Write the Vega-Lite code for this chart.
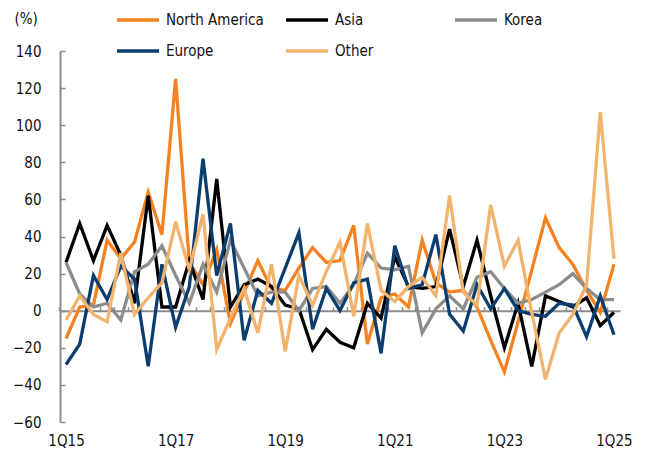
{
  "$schema": "https://vega.github.io/schema/vega-lite/v6.json",
  "autosize": {"type": "none"},
  "width": 560,
  "height": 371,
  "padding": {"left": 60, "top": 51, "right": 26, "bottom": 34},
  "background": "white",
  "config": {
    "view": {"stroke": null},
    "font": "DejaVu Sans Condensed, sans-serif",
    "axis": {"labelFont": "DejaVu Sans Condensed, sans-serif", "labelFontSize": 15, "labelColor": "#111", "grid": false},
    "legend": {"labelFont": "DejaVu Sans Condensed, sans-serif", "labelFontSize": 15, "labelColor": "#111"}
  },
  "data": {"values": [
    {"q":"1Q15","s":"North America","v":-15},{"q":"2Q15","s":"North America","v":2},{"q":"3Q15","s":"North America","v":3},{"q":"4Q15","s":"North America","v":38},
    {"q":"1Q16","s":"North America","v":28},{"q":"2Q16","s":"North America","v":37},{"q":"3Q16","s":"North America","v":64},{"q":"4Q16","s":"North America","v":41},
    {"q":"1Q17","s":"North America","v":125},{"q":"2Q17","s":"North America","v":26},{"q":"3Q17","s":"North America","v":14},{"q":"4Q17","s":"North America","v":33},
    {"q":"1Q18","s":"North America","v":-7},{"q":"2Q18","s":"North America","v":10},{"q":"3Q18","s":"North America","v":27},{"q":"4Q18","s":"North America","v":12},
    {"q":"1Q19","s":"North America","v":11},{"q":"2Q19","s":"North America","v":23},{"q":"3Q19","s":"North America","v":34},{"q":"4Q19","s":"North America","v":26},
    {"q":"1Q20","s":"North America","v":27},{"q":"2Q20","s":"North America","v":46},{"q":"3Q20","s":"North America","v":-18},{"q":"4Q20","s":"North America","v":7},
    {"q":"1Q21","s":"North America","v":9},{"q":"2Q21","s":"North America","v":2},{"q":"3Q21","s":"North America","v":38},{"q":"4Q21","s":"North America","v":15},
    {"q":"1Q22","s":"North America","v":10},{"q":"2Q22","s":"North America","v":11},{"q":"3Q22","s":"North America","v":2},{"q":"4Q22","s":"North America","v":-16},
    {"q":"1Q23","s":"North America","v":-33},{"q":"2Q23","s":"North America","v":-6},{"q":"3Q23","s":"North America","v":22},{"q":"4Q23","s":"North America","v":50},
    {"q":"1Q24","s":"North America","v":34},{"q":"2Q24","s":"North America","v":25},{"q":"3Q24","s":"North America","v":11},{"q":"4Q24","s":"North America","v":-1},
    {"q":"1Q25","s":"North America","v":25},

    {"q":"1Q15","s":"Asia","v":26},{"q":"2Q15","s":"Asia","v":47},{"q":"3Q15","s":"Asia","v":27},{"q":"4Q15","s":"Asia","v":46},
    {"q":"1Q16","s":"Asia","v":30},{"q":"2Q16","s":"Asia","v":4},{"q":"3Q16","s":"Asia","v":62},{"q":"4Q16","s":"Asia","v":2},
    {"q":"1Q17","s":"Asia","v":2},{"q":"2Q17","s":"Asia","v":27},{"q":"3Q17","s":"Asia","v":6},{"q":"4Q17","s":"Asia","v":71},
    {"q":"1Q18","s":"Asia","v":2},{"q":"2Q18","s":"Asia","v":14},{"q":"3Q18","s":"Asia","v":17},{"q":"4Q18","s":"Asia","v":13},
    {"q":"1Q19","s":"Asia","v":3},{"q":"2Q19","s":"Asia","v":1},{"q":"3Q19","s":"Asia","v":-21},{"q":"4Q19","s":"Asia","v":-10},
    {"q":"1Q20","s":"Asia","v":-17},{"q":"2Q20","s":"Asia","v":-20},{"q":"3Q20","s":"Asia","v":4},{"q":"4Q20","s":"Asia","v":-4},
    {"q":"1Q21","s":"Asia","v":29},{"q":"2Q21","s":"Asia","v":13},{"q":"3Q21","s":"Asia","v":12},{"q":"4Q21","s":"Asia","v":13},
    {"q":"1Q22","s":"Asia","v":44},{"q":"2Q22","s":"Asia","v":13},{"q":"3Q22","s":"Asia","v":38},{"q":"4Q22","s":"Asia","v":8},
    {"q":"1Q23","s":"Asia","v":-20},{"q":"2Q23","s":"Asia","v":4},{"q":"3Q23","s":"Asia","v":-30},{"q":"4Q23","s":"Asia","v":8},
    {"q":"1Q24","s":"Asia","v":5},{"q":"2Q24","s":"Asia","v":2},{"q":"3Q24","s":"Asia","v":7},{"q":"4Q24","s":"Asia","v":-8},
    {"q":"1Q25","s":"Asia","v":-1},

    {"q":"1Q15","s":"Korea","v":26},{"q":"2Q15","s":"Korea","v":9},{"q":"3Q15","s":"Korea","v":2},{"q":"4Q15","s":"Korea","v":4},
    {"q":"1Q16","s":"Korea","v":-5},{"q":"2Q16","s":"Korea","v":21},{"q":"3Q16","s":"Korea","v":25},{"q":"4Q16","s":"Korea","v":35},
    {"q":"1Q17","s":"Korea","v":19},{"q":"2Q17","s":"Korea","v":4},{"q":"3Q17","s":"Korea","v":25},{"q":"4Q17","s":"Korea","v":10},
    {"q":"1Q18","s":"Korea","v":38},{"q":"2Q18","s":"Korea","v":23},{"q":"3Q18","s":"Korea","v":8},{"q":"4Q18","s":"Korea","v":10},
    {"q":"1Q19","s":"Korea","v":10},{"q":"2Q19","s":"Korea","v":0},{"q":"3Q19","s":"Korea","v":12},{"q":"4Q19","s":"Korea","v":13},
    {"q":"1Q20","s":"Korea","v":4},{"q":"2Q20","s":"Korea","v":14},{"q":"3Q20","s":"Korea","v":31},{"q":"4Q20","s":"Korea","v":23},
    {"q":"1Q21","s":"Korea","v":22},{"q":"2Q21","s":"Korea","v":24},{"q":"3Q21","s":"Korea","v":-12},{"q":"4Q21","s":"Korea","v":1},
    {"q":"1Q22","s":"Korea","v":8},{"q":"2Q22","s":"Korea","v":1},{"q":"3Q22","s":"Korea","v":18},{"q":"4Q22","s":"Korea","v":21},
    {"q":"1Q23","s":"Korea","v":12},{"q":"2Q23","s":"Korea","v":4},{"q":"3Q23","s":"Korea","v":6},{"q":"4Q23","s":"Korea","v":10},
    {"q":"1Q24","s":"Korea","v":14},{"q":"2Q24","s":"Korea","v":20},{"q":"3Q24","s":"Korea","v":12},{"q":"4Q24","s":"Korea","v":6},
    {"q":"1Q25","s":"Korea","v":6},

    {"q":"1Q15","s":"Europe","v":-29},{"q":"2Q15","s":"Europe","v":-18},{"q":"3Q15","s":"Europe","v":19},{"q":"4Q15","s":"Europe","v":6},
    {"q":"1Q16","s":"Europe","v":24},{"q":"2Q16","s":"Europe","v":17},{"q":"3Q16","s":"Europe","v":-30},{"q":"4Q16","s":"Europe","v":25},
    {"q":"1Q17","s":"Europe","v":-9},{"q":"2Q17","s":"Europe","v":13},{"q":"3Q17","s":"Europe","v":82},{"q":"4Q17","s":"Europe","v":19},
    {"q":"1Q18","s":"Europe","v":47},{"q":"2Q18","s":"Europe","v":-16},{"q":"3Q18","s":"Europe","v":11},{"q":"4Q18","s":"Europe","v":4},
    {"q":"1Q19","s":"Europe","v":23},{"q":"2Q19","s":"Europe","v":42},{"q":"3Q19","s":"Europe","v":-10},{"q":"4Q19","s":"Europe","v":12},
    {"q":"1Q20","s":"Europe","v":0},{"q":"2Q20","s":"Europe","v":15},{"q":"3Q20","s":"Europe","v":17},{"q":"4Q20","s":"Europe","v":-23},
    {"q":"1Q21","s":"Europe","v":35},{"q":"2Q21","s":"Europe","v":12},{"q":"3Q21","s":"Europe","v":14},{"q":"4Q21","s":"Europe","v":41},
    {"q":"1Q22","s":"Europe","v":-2},{"q":"2Q22","s":"Europe","v":-11},{"q":"3Q22","s":"Europe","v":14},{"q":"4Q22","s":"Europe","v":1},
    {"q":"1Q23","s":"Europe","v":12},{"q":"2Q23","s":"Europe","v":0},{"q":"3Q23","s":"Europe","v":-2},{"q":"4Q23","s":"Europe","v":-3},
    {"q":"1Q24","s":"Europe","v":4},{"q":"2Q24","s":"Europe","v":3},{"q":"3Q24","s":"Europe","v":-14},{"q":"4Q24","s":"Europe","v":8},
    {"q":"1Q25","s":"Europe","v":-13},

    {"q":"1Q15","s":"Other","v":-5},{"q":"2Q15","s":"Other","v":8},{"q":"3Q15","s":"Other","v":-2},{"q":"4Q15","s":"Other","v":-6},
    {"q":"1Q16","s":"Other","v":31},{"q":"2Q16","s":"Other","v":-2},{"q":"3Q16","s":"Other","v":7},{"q":"4Q16","s":"Other","v":15},
    {"q":"1Q17","s":"Other","v":48},{"q":"2Q17","s":"Other","v":22},{"q":"3Q17","s":"Other","v":52},{"q":"4Q17","s":"Other","v":-21},
    {"q":"1Q18","s":"Other","v":-4},{"q":"2Q18","s":"Other","v":12},{"q":"3Q18","s":"Other","v":-12},{"q":"4Q18","s":"Other","v":25},
    {"q":"1Q19","s":"Other","v":-22},{"q":"2Q19","s":"Other","v":19},{"q":"3Q19","s":"Other","v":3},{"q":"4Q19","s":"Other","v":21},
    {"q":"1Q20","s":"Other","v":37},{"q":"2Q20","s":"Other","v":-3},{"q":"3Q20","s":"Other","v":47},{"q":"4Q20","s":"Other","v":11},
    {"q":"1Q21","s":"Other","v":5},{"q":"2Q21","s":"Other","v":13},{"q":"3Q21","s":"Other","v":18},{"q":"4Q21","s":"Other","v":8},
    {"q":"1Q22","s":"Other","v":62},{"q":"2Q22","s":"Other","v":10},{"q":"3Q22","s":"Other","v":3},{"q":"4Q22","s":"Other","v":57},
    {"q":"1Q23","s":"Other","v":24},{"q":"2Q23","s":"Other","v":38},{"q":"3Q23","s":"Other","v":-1},{"q":"4Q23","s":"Other","v":-37},
    {"q":"1Q24","s":"Other","v":-12},{"q":"2Q24","s":"Other","v":-2},{"q":"3Q24","s":"Other","v":14},{"q":"4Q24","s":"Other","v":107},
    {"q":"1Q25","s":"Other","v":28}
  ]},
  "resolve": {"axis": {"x": "independent"}},
  "layer": [
    {
      "mark": {"type": "point", "opacity": 0},
      "encoding": {
        "x": {"field": "q", "type": "ordinal",
          "axis": {"orient": "top", "offset": -259.7, "labels": false, "title": null, "domain": true, "domainColor": "#8C8C8C", "domainWidth": 2, "ticks": true, "tickColor": "#8C8C8C", "tickWidth": 1.5, "tickSize": 4, "tickOffset": -6.85}}
      }
    },
    {
      "mark": {"type": "line", "strokeWidth": 3.3, "strokeJoin": "miter", "strokeMiterLimit": 4},
      "encoding": {
        "x": {"field": "q", "type": "ordinal",
          "scale": {"type": "point", "padding": 0.44, "domain": ["1Q15","2Q15","3Q15","4Q15","1Q16","2Q16","3Q16","4Q16","1Q17","2Q17","3Q17","4Q17","1Q18","2Q18","3Q18","4Q18","1Q19","2Q19","3Q19","4Q19","1Q20","2Q20","3Q20","4Q20","1Q21","2Q21","3Q21","4Q21","1Q22","2Q22","3Q22","4Q22","1Q23","2Q23","3Q23","4Q23","1Q24","2Q24","3Q24","4Q24","1Q25"]},
          "axis": {"orient": "bottom", "values": ["1Q15","1Q17","1Q19","1Q21","1Q23","1Q25"], "labelAngle": 0, "domain": false, "ticks": false, "labelPadding": 11, "title": null}},
        "y": {"field": "v", "type": "quantitative",
          "scale": {"domain": [-60, 140], "nice": false, "zero": false},
          "axis": {"values": [-60,-40,-20,0,20,40,60,80,100,120,140], "domain": true, "domainColor": "#8C8C8C", "domainWidth": 2, "ticks": true, "tickColor": "#8C8C8C", "tickWidth": 1.5, "tickSize": -5, "labelPadding": 24,
            "title": "(%)", "titleAngle": 0, "titleAlign": "left", "titleBaseline": "middle", "titleX": -46, "titleY": -33, "titleFont": "DejaVu Sans Condensed, sans-serif", "titleFontSize": 15, "titleFontWeight": "normal", "titleColor": "#111"}},
        "color": {"field": "s", "type": "nominal",
          "scale": {"domain": ["North America","Asia","Korea","Europe","Other"], "range": ["#F58220","#000000","#8C8C8C","#0B3D6E","#F2B36C"]},
          "legend": {"title": null, "orient": "none", "direction": "horizontal", "legendX": 55, "legendY": -54, "columns": 3, "gridAlign": "all", "columnPadding": 15, "rowPadding": -10, "symbolType": "stroke", "symbolSize": 1764, "symbolStrokeWidth": 3.5, "labelOffset": 5, "padding": 0}}
      }
    }
  ]
}
